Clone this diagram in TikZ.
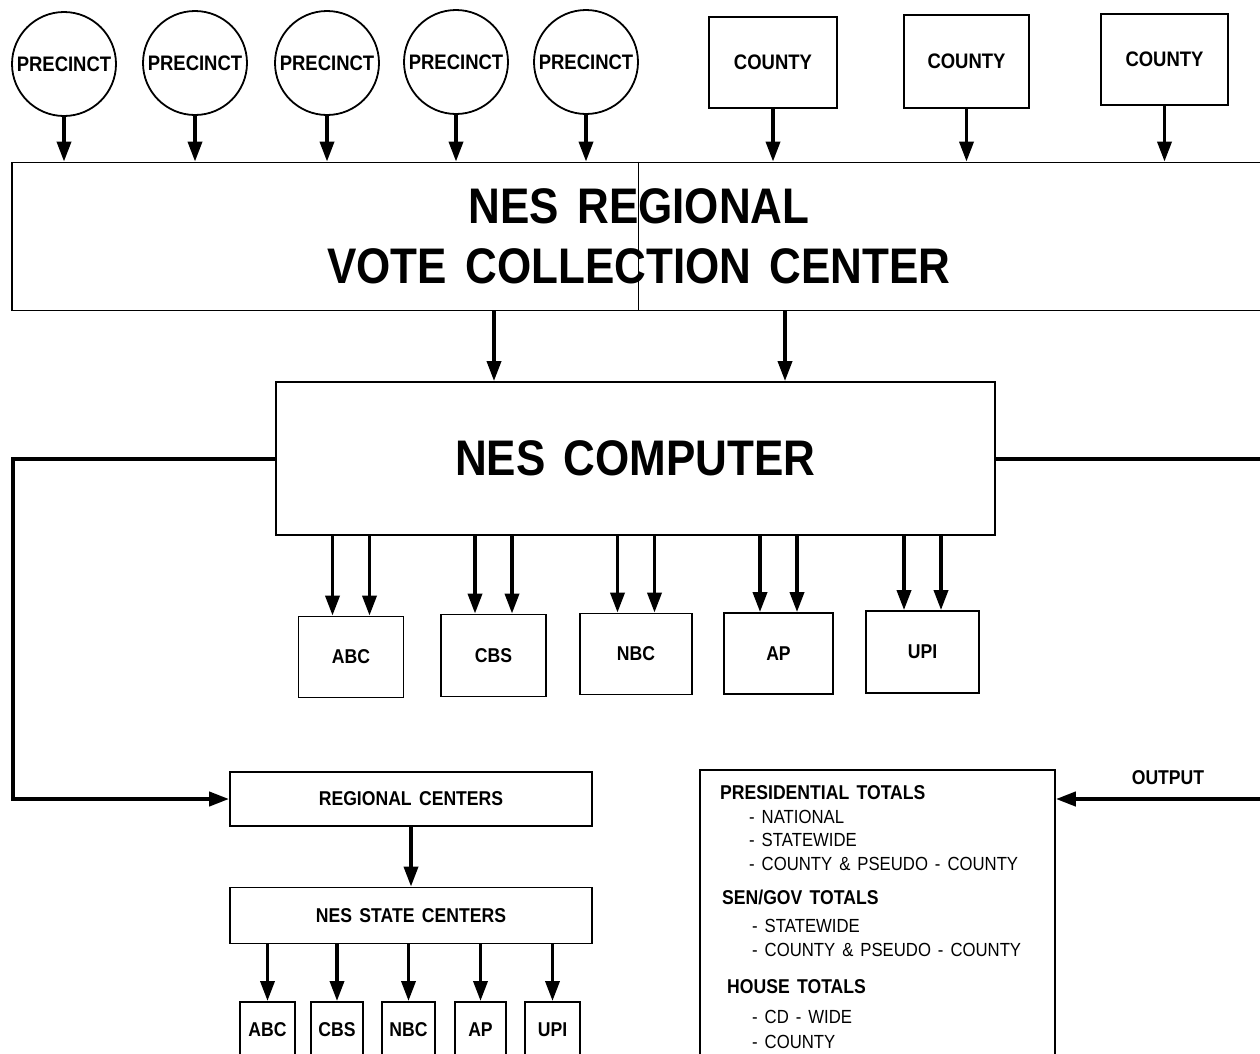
\documentclass[tikz,border=0pt]{standalone}
\usepackage{fontspec}
\setmainfont{Liberation Sans}[FakeStretch=0.88, WordSpace=1.5]
\usetikzlibrary{arrows.meta}
\begin{document}
\begin{tikzpicture}[x=1pt,y=-1pt,
  box/.style={draw, line width=1.8pt, inner sep=0pt},
  circ/.style={draw, circle, line width=1.8pt, inner sep=0pt, minimum size=104pt},
  arr/.style={line width=3.6pt, -{Triangle[width=14pt,length=20pt]}},
  conn/.style={line width=4pt},
  big/.style={font=\fontsize{50}{60}\selectfont\bfseries},
  mid/.style={font=\fontsize{21}{24}\selectfont\bfseries},
  sm/.style={font=\fontsize{20}{24}\selectfont\bfseries},
  head/.style={font=\fontsize{20}{22}\selectfont\bfseries, anchor=base west, inner sep=0pt},
  item/.style={font=\fontsize{19}{22}\selectfont, anchor=base west, inner sep=0pt}]
\useasboundingbox (0,0) rectangle (1260,1053);
\clip (0,0) rectangle (1260,1053);

% precincts
\node[circ, mid] (p1) at (64,64) {PRECINCT};
\node[circ, mid] (p2) at (195,63) {PRECINCT};
\node[circ, mid] (p3) at (327,63) {PRECINCT};
\node[circ, mid] (p4) at (456,62) {PRECINCT};
\node[circ, mid] (p5) at (586,62) {PRECINCT};
% counties
\node[box, mid, minimum width=128pt, minimum height=91pt] (c1) at (773,62.5) {COUNTY};
\node[box, mid, minimum width=125pt, minimum height=93pt] (c2) at (966.5,61.5) {COUNTY};
\node[box, mid, minimum width=127pt, minimum height=91pt] (c3) at (1164.5,59.5) {COUNTY};

% regional collection center
\node[box, big, align=center, minimum width=1254pt, minimum height=148pt] (reg) at (639,236.5)
  {NES REGIONAL\\VOTE COLLECTION CENTER};
\coordinate (seam) at (638,0);
\draw[line width=1pt] (seam |- reg.north) -- (seam |- reg.south);

\foreach \n in {p1,p2,p3,p4,p5,c1,c2,c3}
  \draw[arr] (\n.south) -- (\n.south |- reg.north);

% computer
\node[box, big, minimum width=719pt, minimum height=153pt] (comp) at (635.5,458.5) {NES COMPUTER};
\coordinate (ra) at (494,0);
\coordinate (rb) at (785,0);
\draw[arr] (ra |- reg.south) -- (ra |- comp.north);
\draw[arr] (rb |- reg.south) -- (rb |- comp.north);

% media boxes
\node[box, sm, minimum width=105pt, minimum height=81pt] (n1) at (351,657) {ABC};
\node[box, sm, minimum width=105pt, minimum height=82pt] (n2) at (493.5,655.5) {CBS};
\node[box, sm, minimum width=112pt, minimum height=81pt] (n3) at (636,654) {NBC};
\node[box, sm, minimum width=109pt, minimum height=81pt] (n4) at (778.5,653.5) {AP};
\node[box, sm, minimum width=113pt, minimum height=82pt] (n5) at (922.5,652) {UPI};
\foreach \n in {n1,n2,n3,n4,n5}{
  \coordinate (\n a) at ([xshift=-18.5pt]\n.north);
  \coordinate (\n b) at ([xshift=18.5pt]\n.north);
  \draw[arr] (\n a |- comp.south) -- (\n a);
  \draw[arr] (\n b |- comp.south) -- (\n b);
}

% regional / state centers
\node[box, sm, minimum width=362pt, minimum height=54pt] (regc) at (411,799) {REGIONAL CENTERS};
\node[box, sm, minimum width=362pt, minimum height=56pt] (st) at (411,915.5) {NES STATE CENTERS};
\draw[arr] (regc.south) -- (st.north);
\draw[conn, -{Triangle[width=14pt,length=20pt]}] (comp.west) -- ++(-262,0) |- (regc.west);

% bottom media boxes
\node[box, minimum width=55pt, minimum height=100pt, anchor=north] (b1) at (267.5,1001) {};
\node[box, minimum width=52pt, minimum height=100pt, anchor=north] (b2) at (337,1001) {};
\node[box, minimum width=53pt, minimum height=100pt, anchor=north] (b3) at (408.5,1001) {};
\node[box, minimum width=51pt, minimum height=100pt, anchor=north] (b4) at (480.5,1001) {};
\node[box, minimum width=55pt, minimum height=100pt, anchor=north] (b5) at (552.5,1001) {};
\node[sm] (l1) at (b1.north |- 0,1030) {ABC};
\node[sm] (l2) at (b2.north |- 0,1030) {CBS};
\node[sm] (l3) at (b3.north |- 0,1030) {NBC};
\node[sm] (l4) at (b4.north |- 0,1030) {AP};
\node[sm] (l5) at (b5.north |- 0,1030) {UPI};
\foreach \n in {b1,b2,b3,b4,b5}
  \draw[arr] (\n.north |- st.south) -- (\n.north);

% output box
\node[box, minimum width=355pt, minimum height=330pt, anchor=north west] (ob) at (699,769) {};
\node[head] (o1) at (720,799) {PRESIDENTIAL TOTALS};
\node[item] (o2) at (749,823) {- NATIONAL};
\node[item] (o3) at (749,846.5) {- STATEWIDE};
\node[item] (o4) at (749,870.5) {- COUNTY \& PSEUDO - COUNTY};
\node[head] (o5) at (722,904) {SEN/GOV TOTALS};
\node[item] (o6) at (752,932.5) {- STATEWIDE};
\node[item] (o7) at (752,956.5) {- COUNTY \& PSEUDO - COUNTY};
\node[head] (o8) at (727,993) {HOUSE TOTALS};
\node[item] (o9) at (752,1023.5) {- CD - WIDE};
\node[item] (o10) at (752,1048.5) {- COUNTY};

% right side connectors
\coordinate (re) at (1262,458.5);
\draw[conn] (comp.east) -- (re);
\coordinate (oin) at (1262,799);
\draw[conn, -{Triangle[width=14pt,length=20pt]}] (oin) -- (oin -| ob.east);
\node[sm] (olab) at (1168,778) {OUTPUT};
\end{tikzpicture}
\end{document}
